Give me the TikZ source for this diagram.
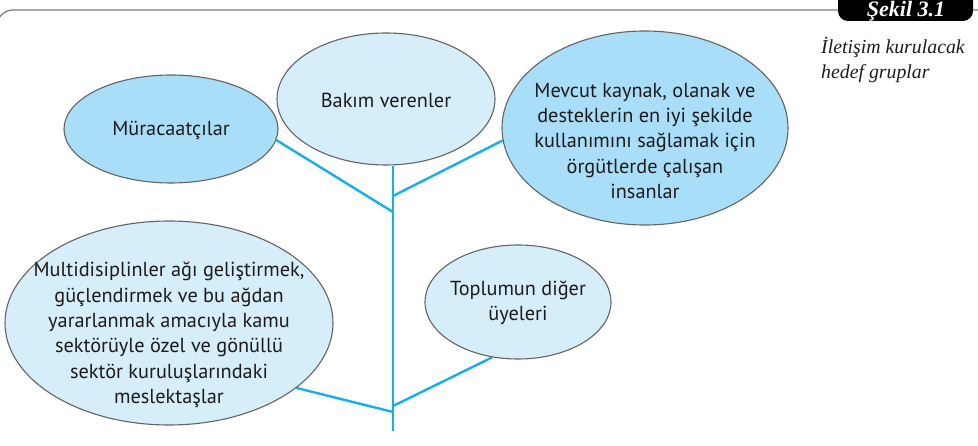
\documentclass[tikz,border=0pt]{standalone}
\usepackage{fontspec}
\setmainfont{PT Sans}
\newfontfamily\capfont{Liberation Serif}
\usetikzlibrary{shapes.geometric,backgrounds}
\definecolor{darkfill}{RGB}{168,222,248}
\definecolor{lightfill}{RGB}{214,237,250}
\definecolor{rimcol}{RGB}{100,100,100}
\definecolor{linkcol}{RGB}{20,176,236}
\definecolor{txtcol}{RGB}{30,27,28}
\definecolor{framecol}{RGB}{125,125,125}
\tikzset{
  bubble/.style={ellipse, draw=rimcol, line width=1.1pt, inner sep=0pt},
  darkbubble/.style={bubble, fill=darkfill},
  lightbubble/.style={bubble, fill=lightfill},
  btext/.style={text=txtcol, align=center, inner sep=0pt, font=\fontsize{20.3}{25.3}\selectfont},
  link/.style={draw=linkcol, line width=2.4pt},
  framepath/.style={draw=framecol, line width=1.3pt},
  captext/.style={text=txtcol, inner sep=0pt, align=left, font=\capfont\itshape\fontsize{19.8}{25}\selectfont}
}
\begin{document}
\begin{tikzpicture}[x=1pt,y=-1pt]
\useasboundingbox (0,0) rectangle (978,446);
% frame
\draw[framepath, rounded corners=16pt] (-3,70) -- (-3,10) -- (980,10);
\fill[black, rounded corners=10pt] (838,-14) rectangle (973,21);
\node[text=white, inner sep=0pt, anchor=base, font=\capfont\bfseries\itshape\fontsize{22}{24}\selectfont] (sekil) at (906,17) {Şekil 3.1};
\node[captext, anchor=north west] (cap) at (821,37) {İletişim kurulacak\\hedef gruplar};
% bubbles
\node[darkbubble, minimum width=214pt, minimum height=108pt] (mur) at (171,129) {};
\node[btext] at ([yshift=-1pt]mur.center) {Müracaatçılar};
\node[lightbubble, minimum width=218pt, minimum height=132pt] (bak) at (386,99) {};
\node[btext] at ([yshift=-1pt]bak.center) {Bakım verenler};
\node[darkbubble, minimum width=286pt, minimum height=194pt] (mev) at (645,128) {};
\node[btext] at ([yshift=-13pt]mev.center) {Mevcut kaynak, olanak ve\\desteklerin en iyi şekilde\\kullanımını sağlamak için\\örgütlerde çalışan\\insanlar};
\node[lightbubble, minimum width=328pt, minimum height=204pt] (mul) at (169,323) {};
\node[btext] at ([yshift=-12pt]mul.center) {Multidisiplinler ağı geliştirmek,\\güçlendirmek ve bu ağdan\\yararlanmak amacıyla kamu\\sektörüyle özel ve gönüllü\\sektör kuruluşlarındaki\\meslektaşlar};
\node[lightbubble, minimum width=186pt, minimum height=114pt] (top) at (518,302) {};
\node[btext] at ([yshift=-1pt]top.center) {Toplumun diğer\\üyeleri};
% trunk junctions
\coordinate (jmev) at (393,196);
\coordinate (jmur) at (393,212);
\coordinate (jtop) at (393,406);
\coordinate (jmul) at (393,412);
\coordinate (tend) at (393,431);
\begin{pgfonlayer}{background}
\draw[link] (bak.south -| tend) -- (tend);
\draw[link] (mur.-6) -- (jmur);
\draw[link] (mev.185) -- (jmev);
\draw[link] (mul.-27) -- (jmul);
\draw[link] (top.245) -- (jtop);
\end{pgfonlayer}
\end{tikzpicture}
\end{document}
